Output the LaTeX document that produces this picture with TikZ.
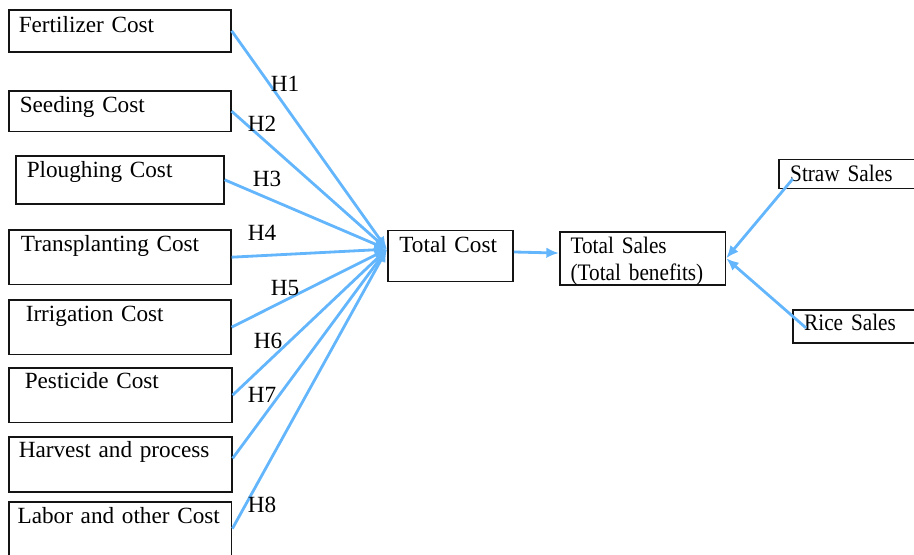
\documentclass[tikz,border=0pt]{standalone}
\usepackage{fontspec}
\setmainfont{Liberation Serif}
\newfontfamily\narrowfont{Liberation Serif}[FakeStretch=0.9]
\usepackage{tikz}
\usetikzlibrary{arrows.meta, positioning, calc}
\definecolor{linkblue}{RGB}{100,182,252}
\definecolor{boxblack}{RGB}{20,20,20}

\begin{document}
\begin{tikzpicture}[
  x=0.025cm, y=-0.025cm,
  font=\fontsize{16.5}{19.2}\selectfont,
  box/.style={rectangle, draw=boxblack, line width=1.1pt, anchor=north west, inner ysep=0pt},
  narrow/.style={font=\narrowfont\fontsize{16.8}{19.2}\selectfont},
  hyp/.style={inner sep=0pt},
  arr/.style={-{Latex[length=9pt, width=7.5pt]}, line width=2pt, linkblue}
]
  \useasboundingbox (0,0) rectangle (914,554);
  % Cost items
  \node[box, inner xsep=0.25cm, text width=5.05cm, text height=0.57cm, text depth=0.48cm] (fert) at (8,9) {Fertilizer Cost};
  \node[box, inner xsep=0.275cm, text width=5.0cm, text height=0.54cm, text depth=0.48cm] (seed) at (8,90) {Seeding Cost};
  \node[box, inner xsep=0.275cm, text width=4.65cm, text height=0.54cm, text depth=0.66cm] (plough) at (15,155) {Ploughing Cost};
  \node[box, inner xsep=0.3cm, text width=4.95cm, text height=0.54cm, text depth=0.83cm] (transp) at (8,229) {Transplanting Cost};
  \node[box, inner xsep=0.425cm, text width=4.7cm, text height=0.54cm, text depth=0.83cm] (irrig) at (8,299) {Irrigation Cost};
  \node[box, inner xsep=0.4cm, text width=4.775cm, text height=0.53cm, text depth=0.84cm] (pest) at (8,367) {Pesticide Cost};
  \node[box, inner xsep=0.25cm, text width=5.075cm, text height=0.52cm, text depth=0.86cm] (harv) at (8,436) {Harvest and process};
  \node[box, inner xsep=0.22cm, text width=5.13cm, text height=0.54cm, text depth=1.0cm] (labor) at (8,501) {Labor and other Cost};
  % Totals
  \node[box, inner xsep=0.29cm, text width=2.55cm, text height=0.55cm, text depth=0.73cm] (tc) at (387,229.6) {Total Cost};
  \node[box, narrow, inner xsep=0.27cm, text width=3.6cm, text height=0.535cm, text depth=0.79cm] (ts) at (559,231) {Total Sales\\(Total benefits)};
  % Sales items
  \node[box, narrow, inner xsep=0.285cm, text width=3.43cm, text height=0.54cm, text depth=0.19cm] (straw) at (778,158.7) {Straw Sales};
  \node[box, narrow, inner xsep=0.285cm, text width=3.18cm, text height=0.525cm, text depth=0.3cm] (rice) at (792,309) {Rice Sales};
  % Hypotheses
  \draw[arr] (fert.east) -- ([yshift=0.17cm]tc.west);
  \draw[arr] (seed.east) -- ([yshift=0.17cm]tc.west);
  \draw[arr] (plough.east) -- ([yshift=0.17cm]tc.west);
  \draw[arr] (transp.east) -- ([yshift=0.17cm]tc.west);
  \draw[arr] (irrig.east) -- ([yshift=0.17cm]tc.west);
  \draw[arr] (pest.east) -- ([yshift=0.17cm]tc.west);
  \draw[arr] ([yshift=0.15cm]harv.east) -- ([yshift=0.17cm]tc.west);
  \draw[arr] ([yshift=0.1cm]labor.east) -- ([yshift=0.17cm]tc.west);
  \node[hyp] (h1) at (285,84) {H1};
  \node[hyp] (h2) at (262,124) {H2};
  \node[hyp] (h3) at (267,179) {H3};
  \node[hyp] (h4) at (262,233) {H4};
  \node[hyp] (h5) at (285,288) {H5};
  \node[hyp] (h6) at (268,341) {H6};
  \node[hyp] (h7) at (262,395) {H7};
  \node[hyp] (h8) at (262,505) {H8};
  % Cost to sales
  \draw[arr] ([yshift=0.1cm]tc.east) -- ([yshift=0.13cm]ts.west);
  \draw[arr] ([xshift=0.37cm, yshift=-0.12cm]straw.west) -- (ts.east);
  \draw[arr] ([xshift=0.35cm, yshift=-0.04cm]rice.west) -- (ts.east);
\end{tikzpicture}
\end{document}
